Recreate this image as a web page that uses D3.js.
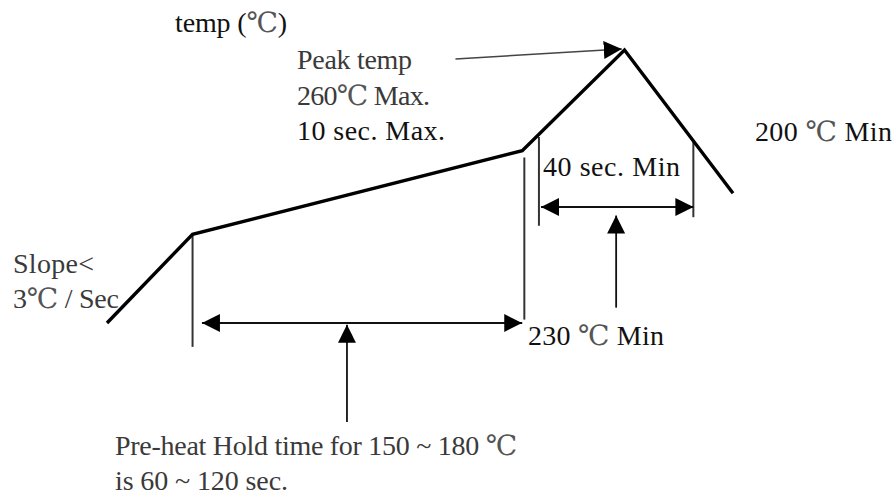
<!DOCTYPE html>
<html>
<head>
<meta charset="utf-8">
<script src="https://cdn.jsdelivr.net/npm/d3@7"></script>
<style>
  html, body { margin: 0; padding: 0; background: #ffffff; }
  svg { display: block; }
  text { font-family: 'Liberation Serif', 'Times New Roman', 'Noto Sans CJK JP', serif; }
  .deg { font-family: 'DejaVu Serif', 'Noto Sans CJK JP', serif; }
</style>
</head>
<body>
<div id="chart"></div>
<script>
/**
 * Reflow soldering profile sketch
 * Schematic temp / time curve with hold-time annotations
 */

// Profile curve (time in sec, temp in °C - schematic, not to scale)
const profileTime = [0, 41, 199, 248, 300];
const profileTemp = [100, 152, 201, 260, 176];

// Vertical guide lines dropped from the curve
const guideTime = [41, 200, 207, 281];
const guideTop = [152, 197, 209, 206];
const guideBottom = [86, 102, 157, 162];

// Double-headed spans (pre-heat hold, time above 230)
const spanStart = [45.5, 208];
const spanEnd = [199, 281];
const spanTemp = [100, 168];

// Single-headed pointers: [from] -> [to]
const pointerFromTime = [115, 244, 167];
const pointerFromTemp = [42, 109, 254.7];
const pointerToTime = [115, 244, 246.7];
const pointerToTemp = [99, 163, 260.6];

// Annotation text
const labelText = [
  'temp (℃)',
  'Peak temp',
  '260℃ Max.',
  '10 sec. Max.',
  '200 ℃ Min',
  '40 sec. Min',
  '230 ℃ Min',
  'Slope<',
  '3℃ / Sec',
  'Pre-heat Hold time for 150 ~ 180 ℃',
  'is 60 ~ 120 sec.'
];

// Layout only (pixel anchor, run width and tone for each label)
const labelLayout = [
  { x: 175, y: 32, w: 112, fill: '#111' },
  { x: 297, y: 69, w: 115, fill: '#3a3a3a' },
  { x: 297, y: 105, w: 133, fill: '#3a3a3a' },
  { x: 297, y: 140, w: 148, fill: '#111' },
  { x: 755, y: 141, w: 137, fill: '#111' },
  { x: 543, y: 176, w: 137, fill: '#111' },
  { x: 528, y: 345, w: 136, fill: '#111' },
  { x: 13, y: 273, w: 81, fill: '#3a3a3a' },
  { x: 13, y: 308, w: 106, fill: '#3a3a3a' },
  { x: 115, y: 455, w: 402, fill: '#3a3a3a' },
  { x: 115, y: 490, w: 173, fill: '#3a3a3a' }
];

const width = 895;
const height = 499;

const svg = d3.select('#chart')
  .append('svg')
  .attr('width', width)
  .attr('height', height);

// Scales
const x = d3.scaleLinear().domain([0, 300]).range([107, 733]);
const y = d3.scaleLinear().domain([100, 260]).range([323, 50]);

// Arrow head marker (fixed size, not scaled by stroke)
svg.append('defs')
  .append('marker')
  .attr('id', 'head')
  .attr('viewBox', '0 0 18 18')
  .attr('refX', 18)
  .attr('refY', 9)
  .attr('markerWidth', 18)
  .attr('markerHeight', 18)
  .attr('markerUnits', 'userSpaceOnUse')
  .attr('orient', 'auto-start-reverse')
  .append('path')
  .attr('d', 'M0,0 L18,9 L0,18 Z')
  .attr('fill', '#000');

// Guide lines
svg.append('g')
  .selectAll('line')
  .data(guideTime)
  .join('line')
  .attr('x1', d => x(d))
  .attr('x2', d => x(d))
  .attr('y1', (d, i) => y(guideTop[i]))
  .attr('y2', (d, i) => y(guideBottom[i]))
  .attr('stroke', '#333')
  .attr('stroke-width', 2);

// Profile curve
const profile = profileTime.map((t, i) => [t, profileTemp[i]]);
const line = d3.line()
  .x(d => x(d[0]))
  .y(d => y(d[1]));

svg.append('path')
  .datum(profile)
  .attr('d', line)
  .attr('fill', 'none')
  .attr('stroke', '#000')
  .attr('stroke-width', 3.4)
  .attr('stroke-linejoin', 'miter');

// Spans (arrow at both ends)
svg.append('g')
  .selectAll('line')
  .data(spanTemp)
  .join('line')
  .attr('x1', (d, i) => x(spanStart[i]))
  .attr('x2', (d, i) => x(spanEnd[i]))
  .attr('y1', d => y(d))
  .attr('y2', d => y(d))
  .attr('stroke', '#111')
  .attr('stroke-width', 1.8)
  .attr('marker-start', 'url(#head)')
  .attr('marker-end', 'url(#head)');

// Pointers (arrow at the end)
svg.append('g')
  .selectAll('line')
  .data(pointerFromTime)
  .join('line')
  .attr('x1', d => x(d))
  .attr('y1', (d, i) => y(pointerFromTemp[i]))
  .attr('x2', (d, i) => x(pointerToTime[i]))
  .attr('y2', (d, i) => y(pointerToTemp[i]))
  .attr('stroke', (d, i) => i === 2 ? '#444' : '#111')
  .attr('stroke-width', (d, i) => i === 2 ? 1.5 : 1.8)
  .attr('marker-end', 'url(#head)');

// Labels - the degree sign goes in its own tspan so it can use a lighter serif glyph
const labels = svg.append('g')
  .selectAll('text')
  .data(labelText)
  .join('text')
  .attr('x', (d, i) => labelLayout[i].x)
  .attr('y', (d, i) => labelLayout[i].y)
  .attr('fill', (d, i) => labelLayout[i].fill)
  .attr('font-size', '28px')
  .attr('textLength', (d, i) => labelLayout[i].w)
  .attr('lengthAdjust', 'spacing');

labels.each(function(d) {
  const parts = d.split('℃');
  const el = d3.select(this);
  parts.forEach((part, k) => {
    if (part) el.append('tspan').text(part);
    if (k < parts.length - 1) {
      el.append('tspan').attr('class', 'deg').attr('fill', '#555').text('℃');
    }
  });
});
</script>
</body>
</html>
